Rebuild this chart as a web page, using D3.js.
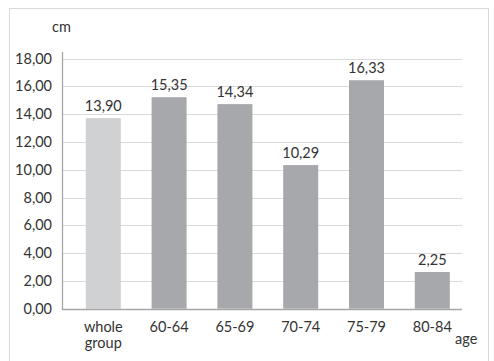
<!DOCTYPE html>
<html>
<head>
<meta charset="utf-8">
<script src="https://cdn.jsdelivr.net/npm/d3@7"></script>
<style>
  html, body { margin: 0; padding: 0; background: #fff; }
  svg { display: block; }
  text { font-family: Lato, "Open Sans", sans-serif; fill: #333; }
</style>
</head>
<body>
<svg id="chart" width="494" height="361"></svg>
<script>
// ---- data ----
const categories = ["whole group", "60-64", "65-69", "70-74", "75-79", "80-84"];
const barValues = [13.72, 15.23, 14.73, 10.34, 16.45, 2.64];   // bar heights as drawn
const valueLabels = ["13,90", "15,35", "14,34", "10,29", "16,33", "2,25"];
const yTicks = [0, 2, 4, 6, 8, 10, 12, 14, 16, 18];
const barColors = ["#d0d1d3", "#a7a8ab", "#a7a8ab", "#a7a8ab", "#a7a8ab", "#a7a8ab"];

const svg = d3.select("#chart");
const fs = 14.5;

// outer frame
svg.append("rect")
  .attr("x", 9.5).attr("y", 8.5).attr("width", 479).attr("height", 360)
  .attr("fill", "none").attr("stroke", "#d9d9d9").attr("stroke-width", 1);

const plotLeft = 62, plotRight = 462;
const y = d3.scaleLinear().domain([0, 18]).range([308.7, 58.7]);
const x = d3.scaleBand().domain(categories).range([70.4, 465.2])
  .paddingInner(0.468).paddingOuter(0.234);

// gridlines
svg.append("g").selectAll("line").data(yTicks.filter(d => d > 0)).join("line")
  .attr("x1", plotLeft).attr("x2", plotRight)
  .attr("y1", d => Math.round(y(d)) + 0.5).attr("y2", d => Math.round(y(d)) + 0.5)
  .attr("stroke", "#d9d9d9").attr("stroke-width", 1);

// y tick labels
svg.append("g").selectAll("text").data(yTicks).join("text")
  .attr("x", 52).attr("y", d => y(d) + 5)
  .attr("text-anchor", "end").attr("font-size", fs)
  .text(d => d3.format(".2f")(d).replace(".", ","));

// bars
svg.append("g").selectAll("rect").data(categories).join("rect")
  .attr("x", d => x(d)).attr("width", x.bandwidth())
  .attr("y", (d, i) => y(barValues[i]))
  .attr("height", (d, i) => y(0) - y(barValues[i]))
  .attr("fill", (d, i) => barColors[i]);

// value labels
svg.append("g").selectAll("text").data(categories).join("text")
  .attr("x", d => x(d) + x.bandwidth() / 2)
  .attr("y", (d, i) => y(barValues[i]) - 7)
  .attr("text-anchor", "middle").attr("font-size", fs)
  .text((d, i) => valueLabels[i]);

// axes lines
svg.append("line").attr("x1", plotLeft + 0.5).attr("x2", plotLeft + 0.5)
  .attr("y1", 52).attr("y2", Math.round(y(0)) + 0.5)
  .attr("stroke", "#a6a6a6").attr("stroke-width", 1.3);
svg.append("line").attr("x1", plotLeft).attr("x2", plotRight)
  .attr("y1", Math.round(y(0)) + 0.5).attr("y2", Math.round(y(0)) + 0.5)
  .attr("stroke", "#a6a6a6").attr("stroke-width", 1.3);

// category labels
const cat = svg.append("g").selectAll("text").data(categories).join("text")
  .attr("x", d => x(d) + x.bandwidth() / 2)
  .attr("y", 332)
  .attr("text-anchor", "middle").attr("font-size", fs);
cat.each(function(d) {
  const parts = d.split(" ");
  const t = d3.select(this);
  parts.forEach((p, j) => {
    t.append("tspan").attr("x", x(d) + x.bandwidth() / 2)
      .attr("dy", j === 0 ? 0 : 16).text(p);
  });
});

// axis titles
svg.append("text").attr("x", 52).attr("y", 32).attr("font-size", fs).text("cm");
svg.append("text").attr("x", 455).attr("y", 344).attr("font-size", fs).text("age");
</script>
</body>
</html>
